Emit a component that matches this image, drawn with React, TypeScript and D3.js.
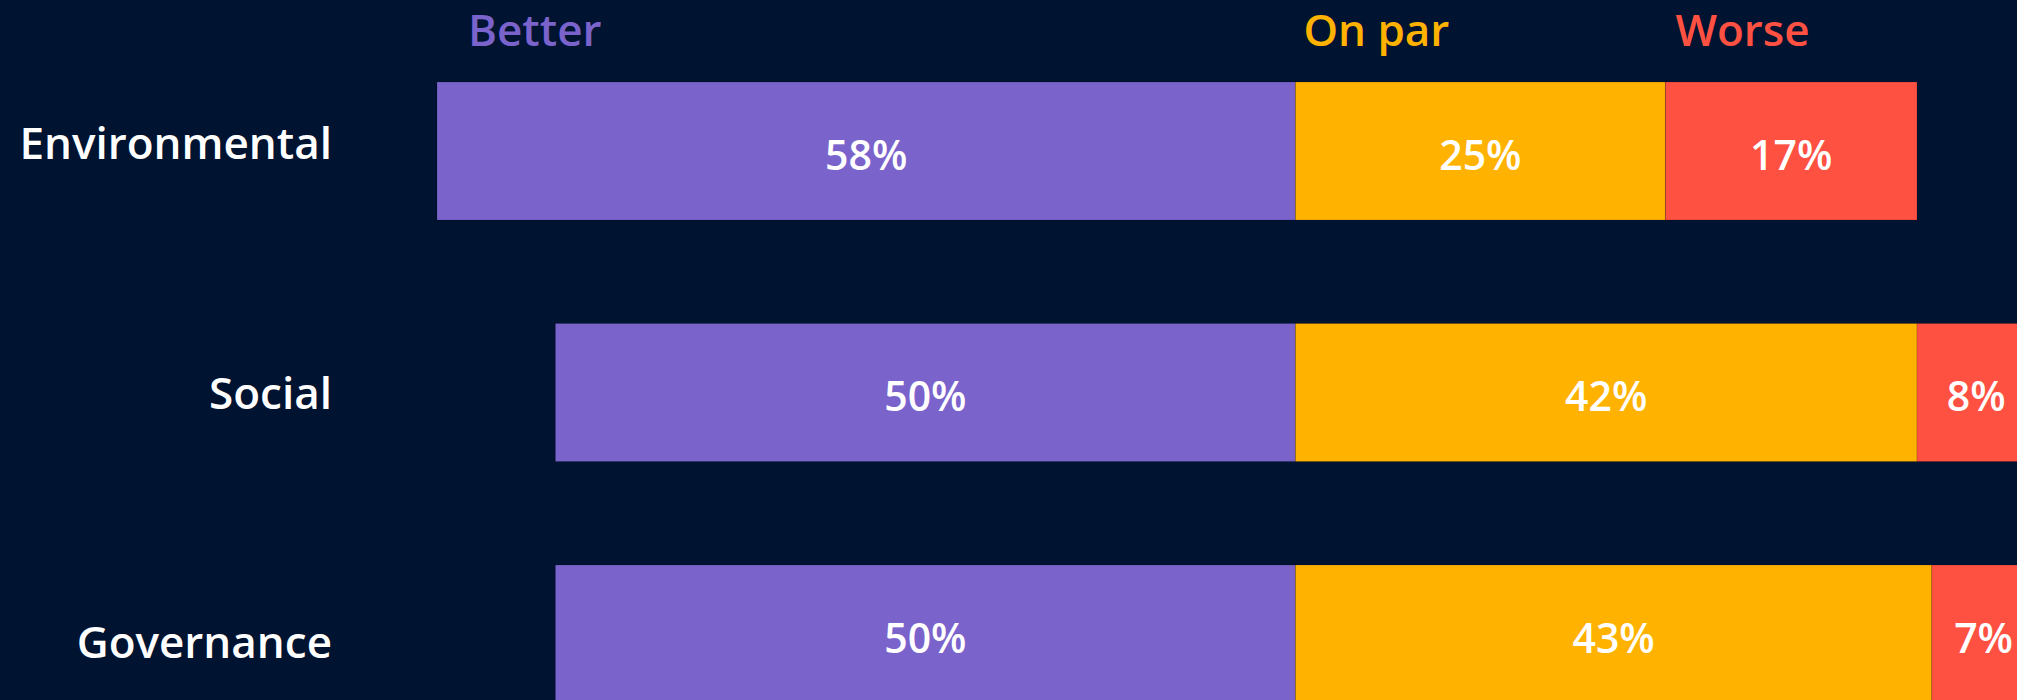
import React from "react";
import * as d3 from "d3";

const categories = ["Environmental", "Social", "Governance"];
const better = [58, 50, 50];
const onPar = [25, 42, 43];
const worse = [17, 8, 7];
const seriesNames = ["Better", "On par", "Worse"];
const seriesColors = ["#7B63CC", "#FFB200", "#FF5142"];

const W = 2017;
const H = 700;
const BG = "#001331";
const FONT = "'Segoe UI', 'Open Sans', sans-serif";

export default function App() {
  const x = d3.scaleLinear().domain([-100, 100]).range([1295.4 - 1480, 1295.4 + 1480]);
  const y = d3
    .scaleBand<string>()
    .domain(categories)
    .range([82, 703])
    .paddingInner(0.4286)
    .paddingOuter(0);
  const yLabel = d3.scalePoint<string>().domain(categories).range([143.5, 642]);

  const rows = categories.map((c, i) => {
    const b = better[i];
    const o = onPar[i];
    const w = worse[i];
    return {
      cat: c,
      segs: [
        { v: b, x0: -b, x1: 0, color: seriesColors[0] },
        { v: o, x0: 0, x1: o, color: seriesColors[1] },
        { v: w, x0: o, x1: o + w, color: seriesColors[2] },
      ],
    };
  });

  const headerX = [x(-58) + 31, x(0) + 8, x(25) + 10];

  return (
    <div style={{ position: "fixed", left: 0, top: 0, width: W, height: H }}>
      <svg width={W} height={H} style={{ display: "block" }}>
        <rect x={0} y={0} width={W} height={H} fill={BG} />
        {seriesNames.map((s, i) => (
          <text
            key={s}
            x={headerX[i]}
            y={46}
            fill={seriesColors[i]}
            fontFamily={FONT}
            fontWeight={600}
            fontSize={44}
          >
            {s}
          </text>
        ))}
        {rows.map((r) => (
          <g key={r.cat}>
            <text
              x={332}
              y={yLabel(r.cat)!}
              dy="0.36em"
              textAnchor="end"
              fill="#FFFFFF"
              fontFamily={FONT}
              fontWeight={600}
              fontSize={44}
            >
              {r.cat}
            </text>
            {r.segs.map((s, j) => (
              <rect
                key={j}
                x={x(s.x0)}
                y={y(r.cat)!}
                width={x(s.x1) - x(s.x0)}
                height={y.bandwidth()}
                fill={s.color}
                stroke="rgba(0,0,0,0.15)"
                strokeWidth={1}
              />
            ))}
            {r.segs.map((s, j) => (
              <text
                key={"t" + j}
                x={(x(s.x0) + x(s.x1)) / 2}
                y={y(r.cat)! + y.bandwidth() / 2 + 4}
                dy="0.36em"
                textAnchor="middle"
                fill="#FFFFFF"
                fontFamily={FONT}
                fontWeight={600}
                fontSize={41}
              >
                {s.v + "%"}
              </text>
            ))}
          </g>
        ))}
      </svg>
    </div>
  );
}
